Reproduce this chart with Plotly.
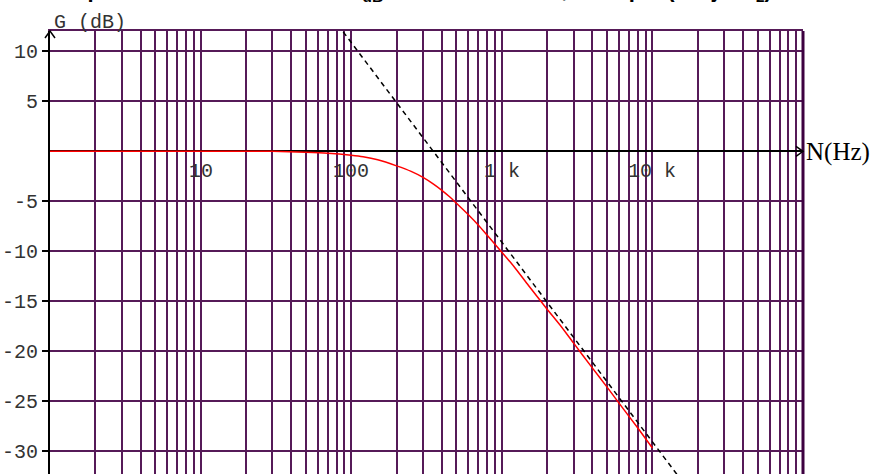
import math
import plotly.graph_objects as go

# Courbe de gain
freq = [1, 10, 30, 50, 70, 100, 120, 150, 200, 250, 300, 350, 400, 450, 500, 600, 700, 800,
        1000, 1200, 1500, 2000, 2500, 3000, 4000, 5000, 6000, 8000, 10000]
gain = [0, 0, 0, -0.1, -0.2, -0.4, -0.55, -0.85, -1.45, -2.0, -2.6, -3.25, -3.9, -4.55, -5.2,
        -6.35, -7.4, -8.4, -10.1, -11.5, -13.4, -15.8, -17.6, -19.2, -21.7, -23.6, -25.2,
        -27.7, -29.7]

# Asymptote (-20 dB/décade)
asym_freq = [75, 15000]
asym_gain = [13.4, -32.6]

# Graduations
y_ticks = [-30, -25, -20, -15, -10, -5, 5, 10]
x_label_vals = [10, 100, 1000, 10000]
x_label_text = ['10', '100', '1 k', '10 k']
grid_freq = [m * 10 ** e for e in range(0, 5) for m in range(1, 10)] + [100000]

grid_col = '#561a58'
mono = 'Liberation Mono'

fig = go.Figure()

fig.add_trace(go.Scatter(x=freq, y=gain, mode='lines',
                         line=dict(color='#ff0000', width=1.5, shape='spline', smoothing=0.5)))
fig.add_trace(go.Scatter(x=asym_freq, y=asym_gain, mode='lines', cliponaxis=False,
                         line=dict(color='black', width=1.5, dash='5px,4px')))

fig.update_layout(
    width=875, height=474,
    margin=dict(l=50, r=72, t=31, b=0),
    paper_bgcolor='white', plot_bgcolor='white',
    showlegend=False,
)

fig.update_xaxes(type='log', range=[0, 5], tickvals=grid_freq, showticklabels=False,
                 ticks='', showgrid=True, gridcolor=grid_col, gridwidth=2,
                 showline=True, mirror=True, linecolor=grid_col, linewidth=2,
                 zeroline=False)

fig.update_yaxes(range=[-32.3, 12.05], tickvals=y_ticks, ticktext=[str(v) for v in y_ticks],
                 ticks='outside', ticklen=6, tickwidth=1.5, tickcolor='black',
                 tickfont=dict(family=mono, size=20, color='#333333'),
                 showgrid=True, gridcolor=grid_col, gridwidth=2,
                 zeroline=True, zerolinecolor='black', zerolinewidth=1.5,
                 showline=True, linecolor='black', linewidth=2)

# bord droit plus épais
fig.add_shape(type='line', xref='paper', yref='paper', x0=1, x1=1, y0=0, y1=1,
              line=dict(color='#3d0040', width=3))
# flèches des axes
fig.add_shape(type='path', xref='paper', yref='paper', xsizemode='pixel', ysizemode='pixel',
              xanchor=0, yanchor=1, path='M -5,-7 L 0,0 L 5,-7',
              line=dict(color='black', width=1.5))
fig.add_shape(type='path', xref='paper', yref='y', xsizemode='pixel', ysizemode='pixel',
              xanchor=1, yanchor=0, path='M -7,5 L 0,0 L -7,-5',
              line=dict(color='black', width=1.5))

# étiquettes de fréquence
for v, t in zip(x_label_vals, x_label_text):
    fig.add_annotation(x=math.log10(v), y=0, xref='x', yref='y', text=t, showarrow=False,
                       yshift=-20, xanchor='center',
                       font=dict(family=mono, size=20, color='#333333'))

fig.add_annotation(xref='paper', yref='paper', x=0, y=1, text='G (dB)', showarrow=False,
                   xanchor='left', yanchor='bottom', xshift=2, yshift=-5,
                   font=dict(family=mono, size=20, color='#333333'))
fig.add_annotation(xref='paper', yref='y', x=1, y=0, text='N(Hz)', showarrow=False,
                   xanchor='left', yanchor='middle', xshift=1, yshift=-1,
                   font=dict(family='Liberation Serif', size=25, color='black'))

# titre (coupé en haut de l'image)
fig.add_annotation(xref='paper', yref='paper', x=0, y=1, showarrow=False,
                   text='Un passe-bas du 1er ordre : T<sub>dB</sub> en fonction de N, avec p = (1 + jN/N<sub>2</sub>)',
                   xanchor='left', yanchor='bottom', xshift=0, yshift=24,
                   font=dict(family='Liberation Sans', size=22, color='black', weight='bold'))

fig.write_html('out.html', config={'displayModeBar': False},
               post_script="document.body.style.margin='0';")
